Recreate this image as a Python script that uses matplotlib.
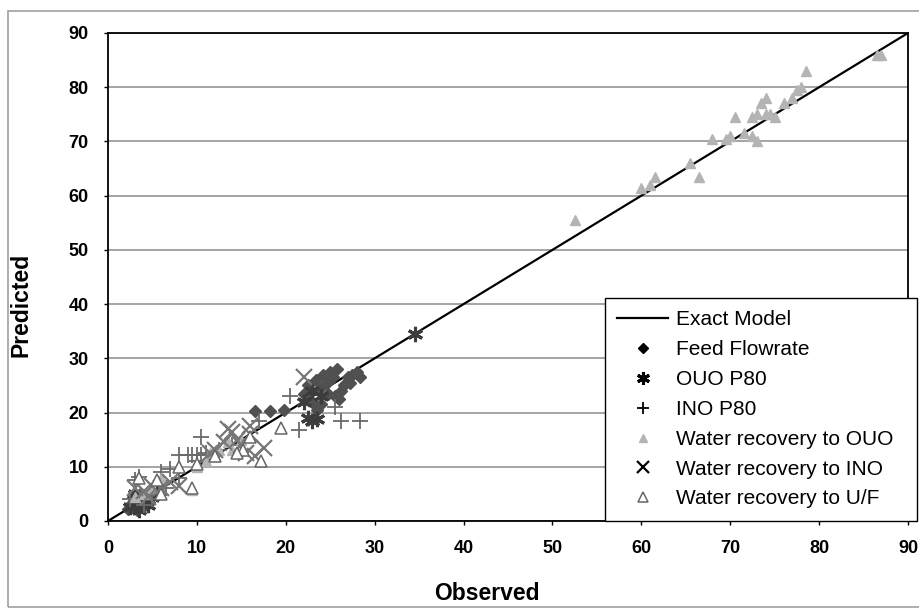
"""
Predicted vs Observed - Exact Model parity plot
"""

import matplotlib.pyplot as plt
from matplotlib.patches import Rectangle

plt.rcParams['font.family'] = ['Liberation Sans', 'DejaVu Sans']

# ---- data ----
model_x = [0, 90]
model_y = [0, 90]

feed_x = [2.5, 3.0, 3.2, 3.5, 3.8, 4.0, 4.3, 2.8, 3.6, 4.6, 2.2, 3.3, 4.1,
          16.5, 18.2, 19.8,
          22.0, 22.5, 23.0, 23.4, 23.8, 24.2, 24.6, 25.0, 25.3, 25.8, 26.2,
          26.6, 27.0, 27.5, 28.0, 28.3, 24.0, 23.5, 25.5, 26.0, 27.2, 22.8, 24.8]
feed_y = [3.0, 2.5, 3.8, 3.2, 4.2, 2.8, 3.6, 4.5, 5.0, 3.4, 2.2, 2.0, 4.8,
          20.3, 20.2, 20.4,
          23.5, 25.0, 22.0, 26.0, 24.5, 27.0, 25.5, 27.5, 26.5, 28.0, 24.0,
          25.0, 26.5, 27.0, 27.5, 26.5, 21.5, 20.5, 23.0, 22.5, 25.5, 24.0, 23.5]

ouo_x = [34.5, 23.0, 22.5, 23.5, 2.5, 3.0, 3.5, 4.0, 4.5, 5.0, 5.5, 3.0, 22.0, 23.0, 24.0]
ouo_y = [34.5, 18.5, 19.0, 18.8, 2.5, 3.5, 2.0, 4.0, 3.0, 4.5, 5.5, 5.0, 22.0, 24.0, 23.0]

ino_x = [26.2, 28.3, 21.5, 20.5, 25.5, 8.0, 9.0, 9.5, 10.0, 10.5, 11.0, 10.5, 12.5,
         3.5, 6.0, 7.0, 8.0, 5.0, 4.0, 2.5, 6.5, 10.0, 17.0, 14.0, 3.0]
ino_y = [18.5, 18.5, 16.8, 23.0, 21.0, 12.2, 12.2, 12.2, 12.2, 12.2, 12.5, 15.5, 13.0,
         8.2, 9.0, 9.5, 8.0, 4.0, 3.0, 4.0, 6.0, 11.0, 18.5, 14.0, 7.5]

wr_ouo_x = [52.5, 60.0, 61.0, 61.5, 65.5, 66.5, 68.0, 69.5, 70.0, 70.5, 71.5, 72.5,
            73.0, 72.5, 73.0, 74.0, 74.5, 75.0, 73.5, 74.0, 76.0, 77.0, 77.5, 78.0,
            78.5, 86.5, 87.0,
            5.0, 9.5, 10.0, 11.0, 12.0, 4.0, 6.0, 15.0, 3.0, 12.5, 13.5, 14.0, 11.5]
wr_ouo_y = [55.5, 61.5, 62.0, 63.5, 66.0, 63.5, 70.5, 70.5, 71.0, 74.5, 71.5, 71.0,
            70.0, 74.5, 75.0, 75.0, 75.0, 74.5, 77.0, 78.0, 77.0, 78.0, 79.5, 80.0,
            83.0, 86.0, 86.0,
            6.0, 5.8, 10.0, 11.0, 12.0, 5.0, 8.0, 15.0, 4.5, 13.0, 14.5, 13.0, 12.5]

wr_ino_x = [12.0, 13.5, 14.5, 15.5, 17.5, 16.0, 15.0, 13.0, 22.0, 3.0, 4.0, 5.0,
            6.0, 7.0, 8.0, 16.5, 11.5, 14.0, 16.0, 4.5]
wr_ino_y = [13.0, 17.0, 15.0, 12.5, 13.5, 16.0, 14.0, 14.5, 26.5, 6.0, 5.5, 6.5,
            6.0, 7.2, 6.5, 12.0, 12.5, 16.5, 17.5, 4.5]

wr_uf_x = [19.5, 17.2, 15.2, 16.0, 9.5, 8.0, 5.5, 3.5, 10.0, 14.5, 6.0, 12.0]
wr_uf_y = [17.2, 11.0, 13.0, 15.5, 6.0, 10.0, 7.5, 8.0, 10.5, 12.5, 5.0, 12.0]

ticks = list(range(0, 91, 10))

# ---- figure ----
fig = plt.figure(figsize=(9.2, 6.14), dpi=100)
fig.patches.append(Rectangle((0.009, 0.012), 1.0, 0.97, transform=fig.transFigure,
                             fill=False, edgecolor='#a0a0a0', lw=1.2))
ax = fig.add_axes([0.1174, 0.1515, 0.8696, 0.7948])

ax.plot(model_x, model_y, color='black', lw=1.6, zorder=2, label='Exact Model')
ax.plot(feed_x, feed_y, 'D', color='#505050', ms=6, ls='none', zorder=3,
        label='Feed Flowrate')
ax.plot(ouo_x, ouo_y, color='#3c3c3c', ms=11, ls='none', zorder=3,
        marker=(6, 2, 0), mew=2.2, label='OUO P80')
ax.plot(ino_x, ino_y, '+', color='#6a6a6a', ms=11, mew=1.3, ls='none', zorder=3,
        label='INO P80')
ax.plot(wr_ouo_x, wr_ouo_y, '^', color='#b4b4b4', ms=7, ls='none', zorder=3,
        label='Water recovery to OUO')
ax.plot(wr_ino_x, wr_ino_y, 'x', color='#777777', ms=11, mew=1.6, ls='none', zorder=3,
        label='Water recovery to INO')
ax.plot(wr_uf_x, wr_uf_y, '^', mfc='white', mec='#666666', ms=8, mew=1.1, ls='none',
        zorder=3, label='Water recovery to U/F')

ax.set_xlim(0, 90)
ax.set_ylim(0, 90)
ax.set_xticks(ticks)
ax.set_yticks(ticks)
ax.tick_params(axis='both', direction='out', length=3, width=1, labelsize=13)
ax.tick_params(axis='x', pad=11)
ax.tick_params(axis='y', pad=11)
for lab in ax.get_xticklabels() + ax.get_yticklabels():
    lab.set_fontweight('bold')
ax.yaxis.grid(True, color='#8c8c8c', lw=1.1)
ax.set_axisbelow(True)
for sp in ax.spines.values():
    sp.set_linewidth(1.3)
    sp.set_color('black')

ax.set_xlabel('Observed', fontsize=16.5, fontweight='bold')
ax.set_ylabel('Predicted', fontsize=16.5, fontweight='bold')
# labels sit a little off-centre in the original
ax.xaxis.set_label_coords(0.474, -0.125)
ax.yaxis.set_label_coords(-0.094, 0.443)

leg = ax.legend(loc='lower left', bbox_to_anchor=(0.621, 0.0, 0.39, 0.453),
                mode='expand', fontsize=15, frameon=True, fancybox=False,
                edgecolor='black', framealpha=1, borderaxespad=0,
                handlelength=2.45, handletextpad=0.36, labelspacing=0.52,
                borderpad=0.6)
leg.get_frame().set_linewidth(1.0)
leg.set_zorder(5)
# legend symbols are drawn black and a little smaller than in the plot
for h in leg.legend_handles[1:]:
    if h.get_label() != 'Water recovery to OUO':
        h.set_color('black')
        h.set_markersize(h.get_markersize() * 0.85)
for h in leg.legend_handles:
    if h.get_label() == 'Water recovery to U/F':
        h.set_markerfacecolor('white')
    if h.get_label() == 'Water recovery to OUO':
        h.set_markersize(6)

plt.savefig('out.png', dpi=100)
